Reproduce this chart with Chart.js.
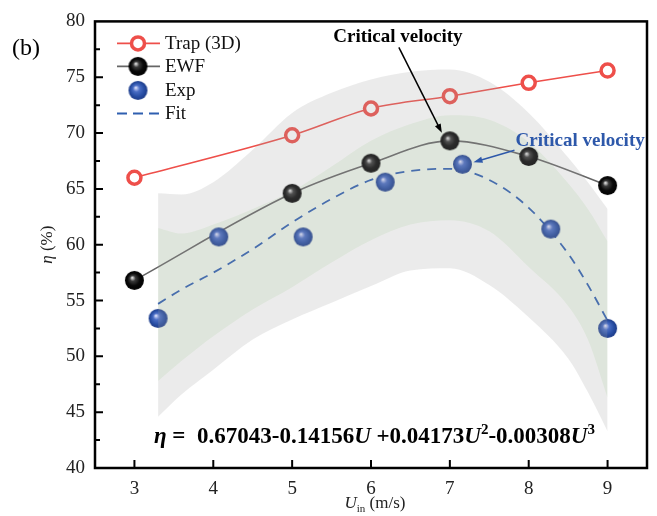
<!DOCTYPE html>
<html>
<head>
<meta charset="utf-8">
<script src="https://cdn.jsdelivr.net/npm/chart.js@4.4.0/dist/chart.umd.min.js"></script>
<style>
    html, body { margin: 0; padding: 0; background: #fff; }
    #wrap { width: 657px; height: 516px; }
</style>
</head>
<body>
<div id="wrap"><canvas id="effChart" width="657" height="516"></canvas></div>
<script>
// values
const xTicks = [3, 4, 5, 6, 7, 8, 9];
const trapU = [3, 5, 6, 7, 8, 9];
const trapEta = [66.0, 69.8, 72.2, 73.3, 74.5, 75.6];
const ewfU = [3, 5, 6, 7, 8, 9];
const ewfEta = [56.8, 64.6, 67.3, 69.3, 67.9, 65.3];
const expU = [3.3, 4.07, 5.14, 6.18, 7.16, 8.28, 9.0];
const expEta = [53.4, 60.7, 60.7, 65.6, 67.2, 61.4, 52.5];
const fitU = [3.3, 3.6, 4.0, 4.5, 5.0, 5.5, 6.0, 6.5, 7.0, 7.5, 8.0, 8.5, 8.75, 9.0];
const fitEta = [54.7, 56.0, 57.5, 59.6, 62.0, 64.1, 65.8, 66.6, 66.8, 65.8, 63.3, 59.2, 56.4, 53.2];
const bandU = [3.3, 3.6, 4.0, 4.5, 5.0, 5.5, 6.0, 6.5, 7.0, 7.5, 8.0, 8.5, 8.75, 9.0];
const grayHi = [64.6, 64.5, 65.6, 68.5, 71.8, 73.6, 74.8, 75.5, 75.7, 74.6, 71.8, 67.8, 65.6, 63.2];
const grayLo = [44.6, 46.6, 48.8, 51.5, 53.3, 54.8, 56.3, 57.7, 57.9, 56.4, 53.5, 49.8, 46.8, 43.3];
const greenHi = [61.5, 61.0, 61.8, 63.2, 64.8, 67.0, 69.3, 70.8, 71.6, 71.2, 69.2, 65.5, 63.2, 60.3];
const greenLo = [47.8, 49.6, 51.8, 54.2, 56.2, 58.4, 60.4, 61.8, 62.2, 61.2, 58.0, 54.5, 51.5, 46.3];

const SERIF = '"Liberation Serif", "Times New Roman", serif';
const RED = "#ee4f4a";
const BLUE_LINE = "#2f5fb0";

function pts(xs, ys) {
    return xs.map((v, i) => ({ x: v, y: ys[i] }));
}

function makeSphere(r, stops) {
    const c = document.createElement("canvas");
    c.width = c.height = 2 * r + 2;
    const g = c.getContext("2d");
    const cx = r + 1, cy = r + 1;
    const grad = g.createRadialGradient(cx - r * 0.25, cy - r * 0.3, 0, cx, cy, r);
    stops.forEach(([o, col]) => grad.addColorStop(o, col));
    g.fillStyle = grad;
    g.beginPath();
    g.arc(cx, cy, r, 0, Math.PI * 2);
    g.fill();
    return c;
}

const blackBall = makeSphere(9.5, [[0, "#f2f2f2"], [0.12, "#b0b0b0"], [0.3, "#3a3a3a"], [0.65, "#0a0a0a"], [1, "#000"]]);
const blueBall = makeSphere(9.5, [[0, "#f6f6ff"], [0.14, "#a9b8ea"], [0.35, "#4a6dc4"], [0.7, "#2a50a6"], [1, "#1b3a88"]]);

function drawRuns(ctx, x, y, runs) {
    runs.forEach(r => {
        ctx.font = r.f;
        ctx.fillText(r.t, x, y + (r.dy || 0));
        x += ctx.measureText(r.t).width;
    });
    return x;
}

function arrow(ctx, x0, y0, x1, y1, color, head) {
    const ang = Math.atan2(y1 - y0, x1 - x0);
    ctx.strokeStyle = color;
    ctx.fillStyle = color;
    ctx.lineWidth = 1.5;
    ctx.beginPath();
    ctx.moveTo(x0, y0);
    ctx.lineTo(x1 - Math.cos(ang) * head * 0.8, y1 - Math.sin(ang) * head * 0.8);
    ctx.stroke();
    ctx.beginPath();
    ctx.moveTo(x1, y1);
    ctx.lineTo(x1 - head * Math.cos(ang) + 3.2 * Math.sin(ang), y1 - head * Math.sin(ang) - 3.2 * Math.cos(ang));
    ctx.lineTo(x1 - head * Math.cos(ang) - 3.2 * Math.sin(ang), y1 - head * Math.sin(ang) + 3.2 * Math.cos(ang));
    ctx.closePath();
    ctx.fill();
}

const decorPlugin = {
    id: "decor",
    afterDatasetsDraw(chart) {
        const { ctx, chartArea: a, scales: { x, y } } = chart;
        ctx.save();

        // frame + inward ticks
        ctx.strokeStyle = "#000";
        ctx.lineWidth = 2.5;
        ctx.strokeRect(a.left, a.top, a.right - a.left, a.bottom - a.top);
        ctx.lineWidth = 2;
        ctx.beginPath();
        xTicks.forEach(v => {
            const px = x.getPixelForValue(v);
            ctx.moveTo(px, a.bottom);
            ctx.lineTo(px, a.bottom - 8);
        });
        for (let v = 42.5; v < 80; v += 2.5) {
            const py = y.getPixelForValue(v);
            ctx.moveTo(a.left, py);
            ctx.lineTo(a.left + (v % 5 === 0 ? 8 : 5), py);
        }
        ctx.stroke();

        // legend
        const lx0 = a.left + 22, lx1 = a.left + 65, lm = a.left + 43, tx = a.left + 70;
        const rows = [a.top + 22, a.top + 45, a.top + 69, a.top + 92];
        ctx.lineWidth = 1.6;
        ctx.strokeStyle = RED;
        ctx.beginPath(); ctx.moveTo(lx0, rows[0]); ctx.lineTo(lx1, rows[0]); ctx.stroke();
        ctx.fillStyle = "#fff";
        ctx.lineWidth = 3.5;
        ctx.beginPath(); ctx.arc(lm, rows[0], 6.5, 0, Math.PI * 2); ctx.fill(); ctx.stroke();
        ctx.lineWidth = 1.6;
        ctx.strokeStyle = "#666";
        ctx.beginPath(); ctx.moveTo(lx0, rows[1]); ctx.lineTo(lx1, rows[1]); ctx.stroke();
        ctx.drawImage(blackBall, lm - blackBall.width / 2, rows[1] - blackBall.height / 2);
        ctx.drawImage(blueBall, lm - blueBall.width / 2, rows[2] - blueBall.height / 2);
        ctx.strokeStyle = BLUE_LINE;
        ctx.lineWidth = 2;
        ctx.setLineDash([10, 6]);
        ctx.beginPath(); ctx.moveTo(lx0, rows[3]); ctx.lineTo(lx1 + 1, rows[3]); ctx.stroke();
        ctx.setLineDash([]);
        ctx.fillStyle = "#111";
        ctx.textBaseline = "middle";
        ctx.textAlign = "left";
        ctx.font = `19px ${SERIF}`;
        ["Trap (3D)", "EWF", "Exp", "Fit"].forEach((t, i) => ctx.fillText(t, tx, rows[i] + 1));

        // annotations
        const pe = { x: x.getPixelForValue(ewfU[3]), y: y.getPixelForValue(ewfEta[3]) };
        ctx.font = `bold 19px ${SERIF}`;
        ctx.textAlign = "center";
        ctx.fillStyle = "#000";
        ctx.fillText("Critical velocity", pe.x - 52, a.top + 16);
        arrow(ctx, pe.x - 51, a.top + 26, pe.x - 8, pe.y - 8, "#000", 9);

        const px = { x: x.getPixelForValue(expU[4]), y: y.getPixelForValue(expEta[4]) };
        ctx.fillStyle = "#2d58aa";
        ctx.textAlign = "left";
        ctx.fillText("Critical velocity", px.x + 53, px.y - 23);
        arrow(ctx, px.x + 52, px.y - 14, px.x + 11, px.y - 2, "#2d58aa", 9);

        // fitted equation
        const B = `bold 23px ${SERIF}`, BI = `bold italic 23px ${SERIF}`, SUP = `bold 15px ${SERIF}`;
        ctx.fillStyle = "#000";
        ctx.textBaseline = "alphabetic";
        drawRuns(ctx, a.left + 59, a.bottom - 25, [
            { t: "η", f: BI }, { t: " =  0.67043-0.14156", f: B }, { t: "U", f: BI },
            { t: " +0.04173", f: B }, { t: "U", f: BI }, { t: "2", f: SUP, dy: -9 },
            { t: "-0.00308", f: B }, { t: "U", f: BI }, { t: "3", f: SUP, dy: -9 },
        ]);

        // panel label and axis titles
        ctx.fillStyle = "#000";
        ctx.font = `24px ${SERIF}`;
        ctx.textBaseline = "middle";
        ctx.fillText("(b)", 12, 49);

        ctx.fillStyle = "#222";
        const cx = (a.left + a.right) / 2;
        ctx.textBaseline = "alphabetic";
        ctx.font = `italic 17px ${SERIF}`;
        const a1 = ctx.measureText("U").width;
        ctx.font = `11px ${SERIF}`;
        const a2 = ctx.measureText("in").width;
        ctx.font = `17px ${SERIF}`;
        const a3 = ctx.measureText(" (m/s)").width;
        drawRuns(ctx, cx - (a1 + a2 + a3) / 2 + 4, 508, [
            { t: "U", f: `italic 17px ${SERIF}` }, { t: "in", f: `11px ${SERIF}`, dy: 4 }, { t: " (m/s)", f: `17px ${SERIF}` },
        ]);

        ctx.save();
        ctx.translate(52, (a.top + a.bottom) / 2);
        ctx.rotate(-Math.PI / 2);
        ctx.font = `italic 17px ${SERIF}`;
        const w1 = ctx.measureText("η").width;
        ctx.font = `17px ${SERIF}`;
        const w2 = ctx.measureText(" (%)").width;
        drawRuns(ctx, -(w1 + w2) / 2, 0, [{ t: "η", f: `italic 17px ${SERIF}` }, { t: " (%)", f: `17px ${SERIF}` }]);
        ctx.restore();

        ctx.restore();
    },
};

const bound = (data, fill, color, order) => ({
    data, fill, backgroundColor: color, borderColor: "transparent", borderWidth: 0,
    pointRadius: 0, cubicInterpolationMode: "monotone", order,
});

new Chart(document.getElementById("effChart"), {
    type: "line",
    data: {
        datasets: [
            // green band sits behind the marks, grey band is laid over them
            bound(pts(bandU, greenHi), "+1", "rgb(239,248,236)", 10),
            bound(pts(bandU, greenLo), false, "transparent", 10),
            bound(pts(bandU, grayHi), "+1", "rgba(165,165,165,0.22)", 0),
            bound(pts(bandU, grayLo), false, "transparent", 0),
            {
                label: "Trap (3D)", data: pts(trapU, trapEta), borderColor: RED, borderWidth: 1.6,
                pointStyle: "circle", pointRadius: 6.5, pointBorderWidth: 3.5,
                pointBackgroundColor: "#fff", pointBorderColor: RED,
                cubicInterpolationMode: "monotone", fill: false, order: 3,
            },
            {
                label: "EWF", data: pts(ewfU, ewfEta), borderColor: "#666", borderWidth: 1.6,
                pointStyle: blackBall, cubicInterpolationMode: "monotone", fill: false, order: 3,
            },
            {
                label: "Exp", data: pts(expU, expEta), showLine: false,
                pointStyle: blueBall, fill: false, order: 2,
            },
            {
                label: "Fit", data: pts(fitU, fitEta), borderColor: BLUE_LINE, borderWidth: 1.8,
                borderDash: [9, 7], pointRadius: 0, cubicInterpolationMode: "monotone", fill: false, order: 4,
            },
        ],
    },
    options: {
        responsive: false,
        animation: false,
        events: [],
        layout: { padding: { top: 20, right: 6, left: 0, bottom: 0 } },
        plugins: { legend: { display: false }, tooltip: { enabled: false } },
        scales: {
            x: {
                type: "linear", min: 2.5, max: 9.5,
                afterBuildTicks: s => { s.ticks = xTicks.map(v => ({ value: v })); },
                afterFit: s => { s.height = 48; },
                grid: { display: false, drawTicks: false, tickLength: 0 },
                border: { display: false },
                ticks: { color: "#222", padding: 10, font: { family: SERIF, size: 19 } },
            },
            y: {
                min: 40, max: 80,
                afterFit: s => { s.width = 95; },
                grid: { display: false, drawTicks: false, tickLength: 0 },
                border: { display: false },
                ticks: { stepSize: 5, color: "#222", padding: 10, font: { family: SERIF, size: 19 } },
            },
        },
    },
    plugins: [decorPlugin],
});
</script>
</body>
</html>
